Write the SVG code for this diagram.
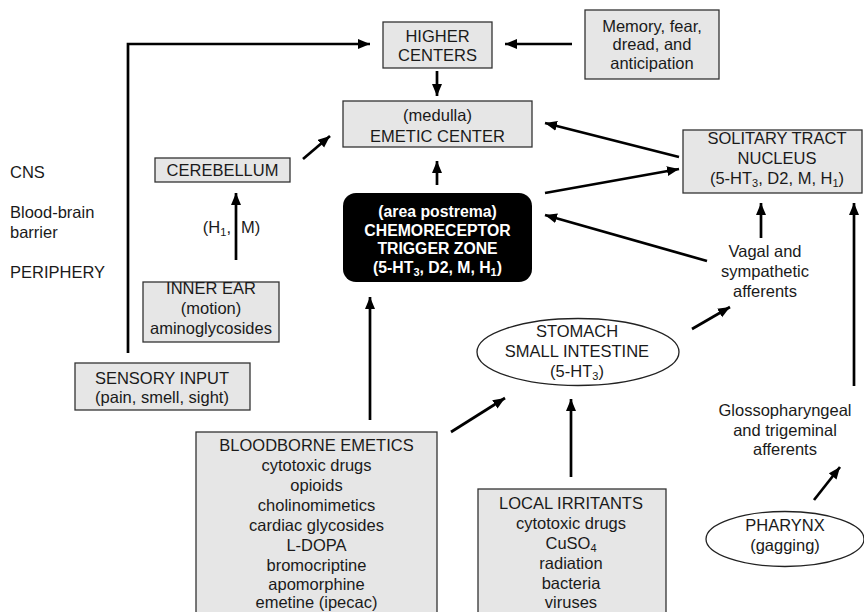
<svg xmlns="http://www.w3.org/2000/svg" width="864" height="612" viewBox="0 0 864 612">
<style>
text{font-family:"Liberation Sans",Arial,sans-serif;font-size:16.5px;fill:#1a1a1a;text-anchor:middle}
.lbl{text-anchor:start}
.box{fill:#e6e6e6;stroke:#333;stroke-width:1.3}
.ell{fill:#fff;stroke:#222;stroke-width:1.3}
.ctz text{fill:#fff;font-weight:bold;font-size:15.8px}
.arr{fill:none;stroke:#000;stroke-width:2.7;marker-end:url(#ah)}
.s{font-size:11px}
</style>
<defs>
<marker id="ah" markerUnits="userSpaceOnUse" markerWidth="13" markerHeight="11" refX="12" refY="5" orient="auto" viewBox="0 0 13 11">
<path d="M0,0 L12,5 L0,10 z" fill="#000"/>
</marker>
</defs>
<rect width="864" height="612" fill="#fff"/>

<g id="labels">
<text class="lbl" x="10" y="178">CNS</text>
<text class="lbl" x="10" y="218">Blood-brain</text>
<text class="lbl" x="10" y="238">barrier</text>
<text class="lbl" x="10" y="278">PERIPHERY</text>
</g>

<g id="higher-centers">
<rect class="box" x="383" y="22" width="109" height="46"/>
<text x="437.5" y="41.5">HIGHER</text>
<text x="437.5" y="61">CENTERS</text>
</g>

<g id="memory">
<rect class="box" x="585" y="10" width="134" height="69"/>
<text x="652" y="31.5">Memory, fear,</text>
<text x="652" y="50">dread, and</text>
<text x="652" y="68.5">anticipation</text>
</g>

<g id="emetic-center">
<rect class="box" x="343" y="101" width="189" height="46"/>
<text x="437.5" y="120.5">(medulla)</text>
<text x="437.5" y="141.5">EMETIC CENTER</text>
</g>

<g id="cerebellum">
<rect class="box" x="155" y="158" width="135" height="24"/>
<text x="222.5" y="176">CEREBELLUM</text>
</g>

<g id="solitary-tract">
<rect class="box" x="683" y="130" width="179" height="63"/>
<text x="777" y="144">SOLITARY TRACT</text>
<text x="777" y="164">NUCLEUS</text>
<text x="777" y="184">(5-HT<tspan class="s" dy="3">3</tspan><tspan dy="-3">, D2, M, H</tspan><tspan class="s" dy="3">1</tspan><tspan dy="-3">)</tspan></text>
</g>

<g id="ctz" class="ctz">
<rect x="343" y="193" width="189" height="89" rx="13" ry="13" fill="#000"/>
<text x="437.5" y="217">(area postrema)</text>
<text x="437.5" y="235.5">CHEMORECEPTOR</text>
<text x="437.5" y="254">TRIGGER ZONE</text>
<text x="437.5" y="272.5">(5-HT<tspan class="s" dy="3">3</tspan><tspan dy="-3">, D2, M, H</tspan><tspan class="s" dy="3">1</tspan><tspan dy="-3">)</tspan></text>
</g>

<g id="inner-ear">
<rect class="box" x="143" y="282" width="136" height="60"/>
<text x="211" y="294">INNER EAR</text>
<text x="211" y="314">(motion)</text>
<text x="211" y="334">aminoglycosides</text>
</g>

<g id="h1m">
<text x="231" y="233" style="text-anchor:end">(H<tspan class="s" dy="3">1</tspan><tspan dy="-3">,</tspan></text>
<text class="lbl" x="241" y="233">M)</text>
</g>

<g id="sensory-input">
<rect class="box" x="75" y="363" width="175" height="47"/>
<text x="162" y="384">SENSORY INPUT</text>
<text x="162" y="403">(pain, smell, sight)</text>
</g>

<g id="vagal">
<text x="765" y="257">Vagal and</text>
<text x="765" y="277">sympathetic</text>
<text x="765" y="297">afferents</text>
</g>

<g id="stomach">
<ellipse class="ell" cx="578" cy="352" rx="101" ry="33.5"/>
<text x="577" y="337">STOMACH</text>
<text x="577" y="357">SMALL INTESTINE</text>
<text x="577" y="377">(5-HT<tspan class="s" dy="3">3</tspan><tspan dy="-3">)</tspan></text>
</g>

<g id="glosso">
<text x="785" y="416">Glossopharyngeal</text>
<text x="785" y="436">and trigeminal</text>
<text x="785" y="455">afferents</text>
</g>

<g id="bloodborne">
<rect class="box" x="196" y="432" width="241" height="200"/>
<text x="316.5" y="451">BLOODBORNE EMETICS</text>
<text x="316.5" y="471">cytotoxic drugs</text>
<text x="316.5" y="491">opioids</text>
<text x="316.5" y="511">cholinomimetics</text>
<text x="316.5" y="531">cardiac glycosides</text>
<text x="316.5" y="551">L-DOPA</text>
<text x="316.5" y="571">bromocriptine</text>
<text x="316.5" y="590">apomorphine</text>
<text x="316.5" y="608">emetine (ipecac)</text>
</g>

<g id="local-irritants">
<rect class="box" x="478" y="489" width="188" height="140"/>
<text x="571" y="509">LOCAL IRRITANTS</text>
<text x="571" y="529">cytotoxic drugs</text>
<text x="571" y="549">CuSO<tspan class="s" dy="3">4</tspan></text>
<text x="571" y="569">radiation</text>
<text x="571" y="589">bacteria</text>
<text x="571" y="608">viruses</text>
</g>

<g id="pharynx">
<ellipse class="ell" cx="785" cy="539" rx="79" ry="27.5"/>
<text x="785" y="531">PHARYNX</text>
<text x="785" y="551">(gagging)</text>
</g>

<g id="connectors">
<polyline class="arr" points="128,353 128,44 370,44"/>
<line class="arr" x1="572" y1="44" x2="505" y2="44"/>
<line class="arr" x1="437" y1="71" x2="437" y2="96"/>
<line class="arr" x1="437" y1="185" x2="437" y2="161"/>
<line class="arr" x1="303" y1="159" x2="330" y2="136"/>
<line class="arr" x1="236" y1="260" x2="236" y2="193"/>
<line class="arr" x1="679" y1="157" x2="545" y2="123"/>
<line class="arr" x1="545" y1="193" x2="679" y2="169"/>
<line class="arr" x1="707" y1="261" x2="545" y2="215"/>
<line class="arr" x1="761" y1="238" x2="761" y2="203"/>
<line class="arr" x1="854" y1="386" x2="854" y2="203"/>
<line class="arr" x1="692" y1="329" x2="730" y2="307"/>
<line class="arr" x1="451" y1="432" x2="505" y2="398"/>
<line class="arr" x1="571" y1="477" x2="571" y2="399"/>
<line class="arr" x1="370" y1="420" x2="370" y2="297"/>
<line class="arr" x1="814" y1="500" x2="840" y2="467"/>
</g>
</svg>
